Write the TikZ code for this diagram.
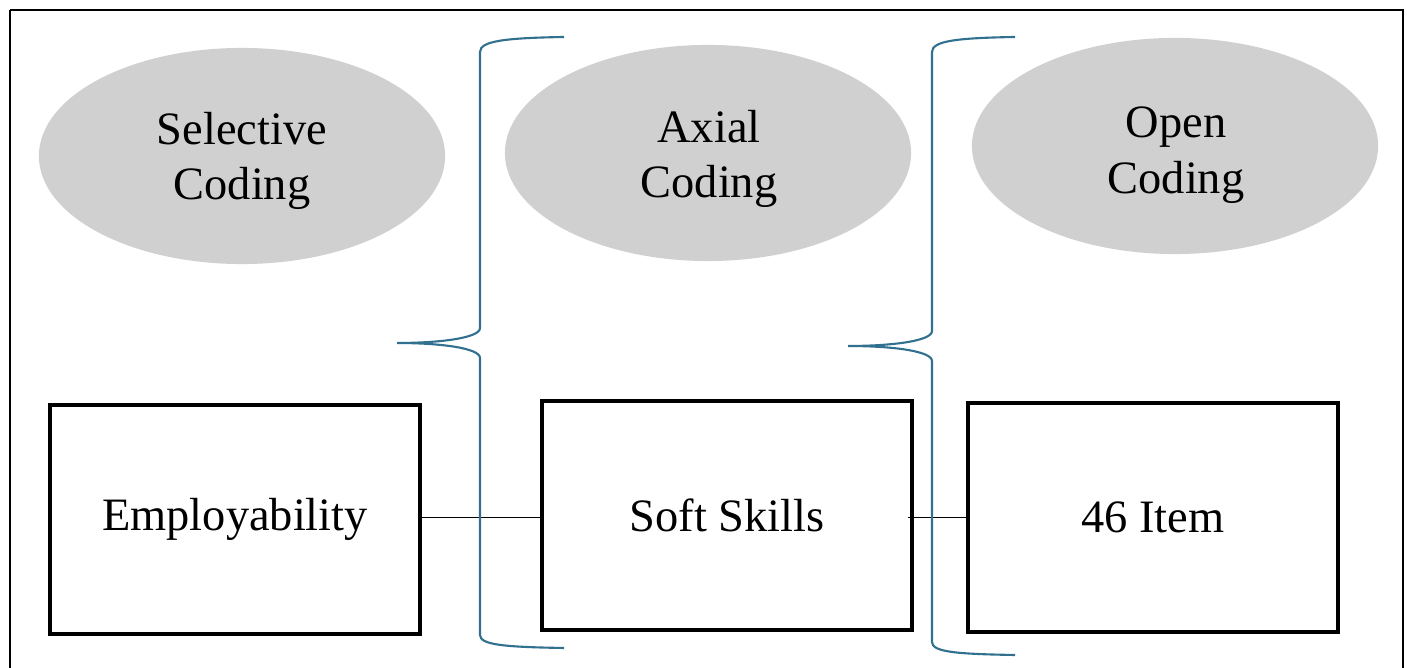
\documentclass[tikz,border=0pt]{standalone}
\usepackage{fontspec}
\setmainfont{Liberation Serif}
\usetikzlibrary{shapes.geometric}
\definecolor{phasegray}{HTML}{D0D0D0}
\definecolor{bracecol}{HTML}{31708F}
\tikzset{
  phase/.style={ellipse, fill=phasegray, inner sep=0pt, minimum width=4.06cm,
    minimum height=2.16cm},
  phasetext/.style={align=center, inner sep=0pt,
    font=\fontsize{13.2pt}{15.8pt}\selectfont},
  codebox/.style={draw, line width=1.1pt, minimum width=3.7cm, minimum height=2.29cm,
    inner sep=0pt, font=\fontsize{13.2pt}{15.5pt}\selectfont},
  link/.style={draw, line width=0.45pt},
  curly/.style={draw=bracecol, line width=0.6pt},
  frame/.style={draw, line width=0.65pt}
}
\begin{document}
\begin{tikzpicture}[x=0.01cm, y=-0.01cm]
  \useasboundingbox (0,0) rectangle (1407,668);
  % outer frame (runs past the lower edge)
  \draw[frame] (10,10) -- (10,690) (10,10) -- (1403,10) -- (1403,690);

  % coding phases
  \node[phase] (sel)  at (242,156) {};
  \node[phase] (axi)  at (708,153) {};
  \node[phase] (open) at (1175,146) {};
  \node[phasetext] (selt)  at (242,161)  {Selective\\Coding};
  \node[phasetext] (axit)  at (709,159)  {Axial\\Coding};
  \node[phasetext] (opent) at (1176,155) {Open\\Coding};

  % categories
  \node[codebox] (b1) at (235,519.5) {Employability};
  \node[codebox] (b2) at (727,515.5) {Soft Skills};
  \node[codebox] (b3) at (1153,517.5) {46 Item};

  % links between categories
  \draw[link] (b1.east |- b3.center) -- (b2.west |- b3.center);
  \draw[link] ([xshift=-0.06cm]b2.east |- b3.center) -- (b3.west);

  % grouping braces
  \draw[curly] (564,37) .. controls (505,38) and (480,41) .. (480,52)
    -- (480,328) .. controls (480,338) and (440,343) .. (397,343)
    .. controls (440,343) and (480,348) .. (480,358)
    -- (480,635) .. controls (480,645) and (505,647) .. (564,648);
  \draw[curly] (1015,37) .. controls (956,38) and (932,41) .. (932,52)
    -- (932,331) .. controls (932,341) and (892,346) .. (848,346)
    .. controls (892,346) and (932,351) .. (932,361)
    -- (932,642) .. controls (932,652) and (956,654) .. (1015,655);
\end{tikzpicture}
\end{document}
